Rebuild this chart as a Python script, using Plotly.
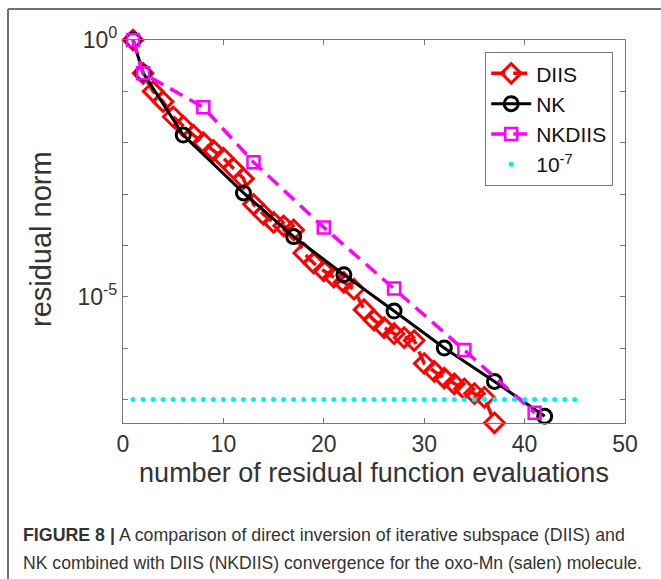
import plotly.graph_objects as go

# ---- data ----
diis_x = list(range(1, 38))
diis_y = [1.0, 0.224, 0.1, 0.063, 0.032, 0.021, 0.0141, 0.01, 7.08e-3, 5.0e-3,
          3.16e-3, 2.0e-3, 6.3e-4, 4.0e-4, 2.8e-4, 2.4e-4, 2.0e-4, 7.1e-5, 4.5e-5,
          3.2e-5, 2.4e-5, 1.9e-5, 1.4e-5, 5.6e-6, 3.5e-6, 2.5e-6, 1.9e-6, 1.6e-6,
          1.4e-6, 5.0e-7, 3.5e-7, 2.6e-7, 2.0e-7, 1.6e-7, 1.3e-7, 1.1e-7, 3.5e-8]

nk_x = [1, 2, 6, 12, 17, 22, 27, 32, 37, 42]
nk_y = [1.0, 0.229, 0.0141, 1.05e-3, 1.48e-4, 2.69e-5, 5.25e-6, 1.0e-6, 2.24e-7, 4.68e-8]

nkdiis_x = [1, 2, 8, 13, 20, 27, 34, 41]
nkdiis_y = [1.0, 0.224, 0.049, 4.17e-3, 2.24e-4, 1.45e-5, 9.12e-7, 5.5e-8]

tol_x = list(range(1, 46))
tol_y = [1e-7] * len(tol_x)

x_ticks = [0, 10, 20, 30, 40, 50]
y_major = [1e0, 1e-5]
y_major_text = ["10<sup>0</sup>", "10<sup>-5</sup>"]
y_minor = [1e-1, 1e-2, 1e-3, 1e-4, 1e-6, 1e-7]

# ---- layout geometry (pixels) ----
W, H = 661, 579
L, R, T, B = 123, 625, 40, 423


def px(xp):
    return (xp - L) / (R - L)


def py(yp):
    return (B - yp) / (B - T)


fig = go.Figure()
fig.add_trace(go.Scatter(
    x=diis_x, y=diis_y, name="DIIS", mode="lines+markers", cliponaxis=False,
    line=dict(color="#ff0000", width=3.5, dash="14px,8px"),
    marker=dict(symbol="diamond-open", size=15, color="#ff0000", line=dict(width=3))))
fig.add_trace(go.Scatter(
    x=nk_x, y=nk_y, name="NK", mode="lines+markers", cliponaxis=False,
    line=dict(color="black", width=3),
    marker=dict(symbol="circle-open", size=14, color="black", line=dict(width=3))))
fig.add_trace(go.Scatter(
    x=nkdiis_x, y=nkdiis_y, name="NKDIIS", mode="lines+markers", cliponaxis=False,
    line=dict(color="#ff00ff", width=3.5, dash="14px,8px"),
    marker=dict(symbol="square-open", size=12, color="#ff00ff", line=dict(width=2.5))))
fig.add_trace(go.Scatter(
    x=tol_x, y=tol_y, name="10<sup>-7</sup>", mode="markers", cliponaxis=False,
    marker=dict(symbol="circle", size=5, color="#00f0f0")))

axis_common = dict(showline=True, linecolor="#777777", linewidth=1.2, mirror="ticks",
                   ticks="inside", ticklen=5, tickcolor="#777777", showgrid=False,
                   zeroline=False, tickfont=dict(family="Liberation Sans", size=23, color="#333333"))

fig.update_xaxes(range=[0, 50], tickvals=x_ticks, ticktext=[str(v) for v in x_ticks],
                 title=dict(text="number of residual function evaluations",
                            font=dict(family="Liberation Sans", size=27, color="#333333"),
                            standoff=7),
                 **axis_common)
fig.update_yaxes(type="log", range=[-7.46, 0], tickvals=y_major, ticktext=y_major_text,
                 minor=dict(tickmode="array", tickvals=y_minor, ticks="inside", ticklen=5,
                            tickcolor="#777777", showgrid=False),
                 **axis_common)

caption1 = "<b>FIGURE 8 |</b> A comparison of direct inversion of iterative subspace (DIIS) and"
caption2 = "NK combined with DIIS (NKDIIS) convergence for the oxo-Mn (salen) molecule."

fig.update_layout(
    width=W, height=H,
    margin=dict(l=L, r=W - R, t=T, b=H - B),
    paper_bgcolor="white", plot_bgcolor="white",
    font=dict(family="Liberation Sans", color="#333333"),
    legend=dict(x=px(613), y=py(52), xanchor="right", yanchor="top",
                bgcolor="white", bordercolor="#777777", borderwidth=1.2,
                font=dict(family="Liberation Sans", size=21, color="#111111"),
                itemwidth=40, tracegroupgap=0),
    shapes=[
        dict(type="line", xref="paper", yref="paper", x0=px(8), x1=px(700), y0=py(9), y1=py(9),
             line=dict(color="#707070", width=2)),
        dict(type="line", xref="paper", yref="paper", x0=px(8), x1=px(8), y0=py(9), y1=py(600),
             line=dict(color="#707070", width=2)),
    ],
    annotations=[
        dict(text="residual norm", xref="paper", yref="paper", x=px(41), y=py(239),
             xanchor="center", yanchor="middle", textangle=-90, showarrow=False,
             font=dict(family="Liberation Sans", size=29, color="#333333")),
        dict(text=caption1, xref="paper", yref="paper", x=px(21), y=py(535), xanchor="left",
             yanchor="middle", showarrow=False,
             font=dict(family="Liberation Sans", size=17.8, color="#333333")),
        dict(text=caption2, xref="paper", yref="paper", x=px(21), y=py(563), xanchor="left",
             yanchor="middle", showarrow=False,
             font=dict(family="Liberation Sans", size=17.6, color="#333333")),
    ],
)

fig.write_html("out.html")
